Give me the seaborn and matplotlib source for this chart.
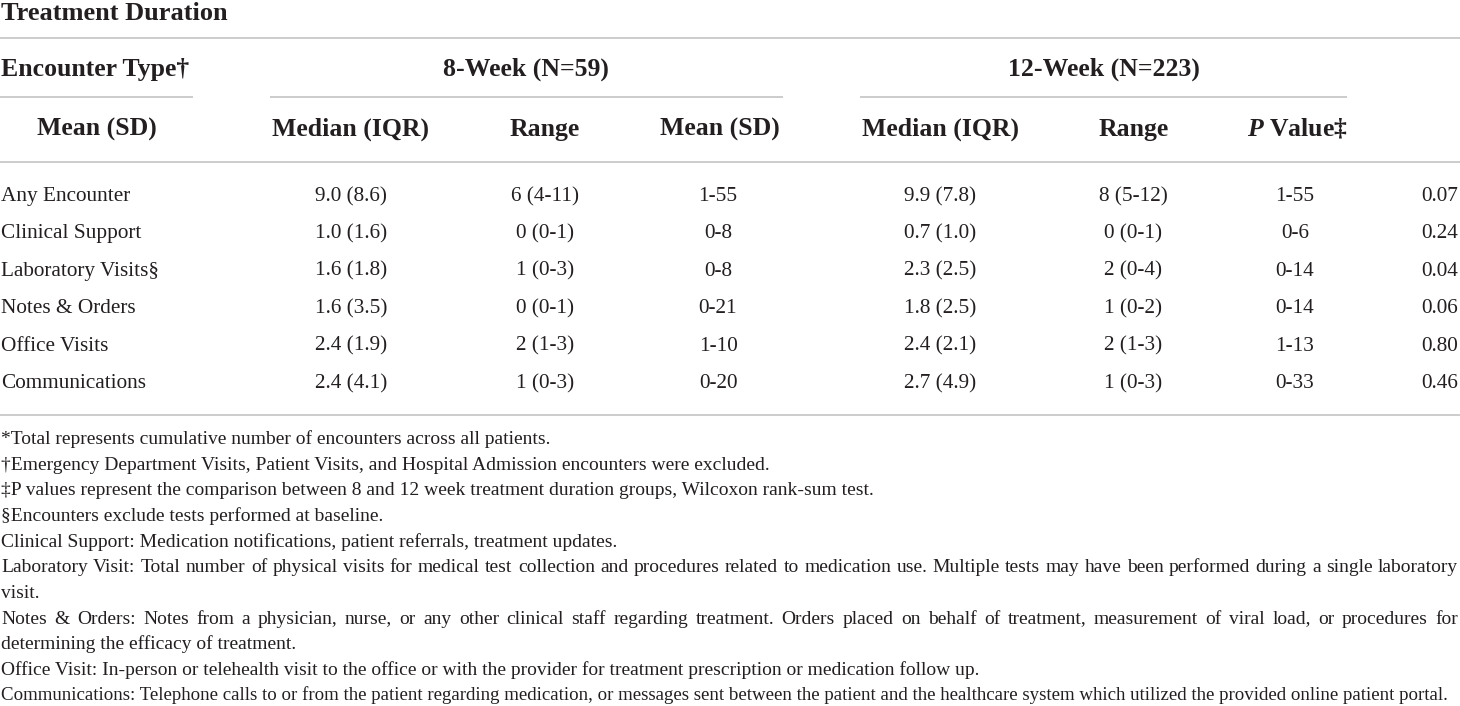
import pandas as pd
import matplotlib
matplotlib.use("Agg")
import matplotlib.pyplot as plt
import seaborn as sns

# table data
encounter_types = ["Any Encounter", "Clinical Support", "Laboratory Visits§",
                   "Notes & Orders", "Office Visits", "Communications"]
mean_sd_8 = ["9.0 (8.6)", "1.0 (1.6)", "1.6 (1.8)", "1.6 (3.5)", "2.4 (1.9)", "2.4 (4.1)"]
median_iqr_8 = ["6 (4-11)", "0 (0-1)", "1 (0-3)", "0 (0-1)", "2 (1-3)", "1 (0-3)"]
range_8 = ["1-55", "0-8", "0-8", "0-21", "1-10", "0-20"]
mean_sd_12 = ["9.9 (7.8)", "0.7 (1.0)", "2.3 (2.5)", "1.8 (2.5)", "2.4 (2.1)", "2.7 (4.9)"]
median_iqr_12 = ["8 (5-12)", "0 (0-1)", "2 (0-4)", "1 (0-2)", "2 (1-3)", "1 (0-3)"]
range_12 = ["1-55", "0-6", "0-14", "0-14", "1-13", "0-33"]
p_values = ["0.07", "0.24", "0.04", "0.06", "0.80", "0.46"]

group_labels = ["8-Week (N=59)", "12-Week (N=223)"]
sub_headers = ["Mean (SD)", "Median (IQR)", "Range", "Mean (SD)",
               "Median (IQR)", "Range", r"$\mathit{P}$ Value‡"]

footnotes = [
    "*Total represents cumulative number of encounters across all patients.",
    "†Emergency Department Visits, Patient Visits, and Hospital Admission encounters were excluded.",
    "‡P values represent the comparison between 8 and 12 week treatment duration groups, Wilcoxon rank-sum test.",
    "§Encounters exclude tests performed at baseline.",
    "Clinical Support: Medication notifications, patient referrals, treatment updates.",
    "Laboratory Visit: Total number of physical visits for medical test collection and procedures related to medication use. Multiple tests may have been performed during a single laboratory",
    "visit.",
    "Notes & Orders: Notes from a physician, nurse, or any other clinical staff regarding treatment. Orders placed on behalf of treatment, measurement of viral load, or procedures for",
    "determining the efficacy of treatment.",
    "Office Visit: In-person or telehealth visit to the office or with the provider for treatment prescription or medication follow up.",
    "Communications: Telephone calls to or from the patient regarding medication, or messages sent between the patient and the healthcare system which utilized the provided online patient portal.",
]
# lines that wrap onto the next one are set justified
justified = [False, False, False, False, False, True, False, True, False, False, False]

df = pd.DataFrame({
    "type": encounter_types,
    "mean8": mean_sd_8, "med8": median_iqr_8, "rng8": range_8,
    "mean12": mean_sd_12, "med12": median_iqr_12, "rng12": range_12,
    "p": p_values,
})

sns.set_theme(style="white")
plt.rcParams["font.family"] = ["Liberation Serif", "DejaVu Serif"]
plt.rcParams["mathtext.fontset"] = "custom"
plt.rcParams["mathtext.it"] = "Liberation Serif:italic:bold"

ink = "#231f20"
rule = "#c8c8c8"

fig = plt.figure(figsize=(14.6, 7.06), dpi=100)
ax = fig.add_axes([0, 0, 1, 1])
ax.set_xlim(0, 1460)
ax.set_ylim(706, 0)
ax.axis("off")
renderer = fig.canvas.get_renderer()

# title and rules
ax.text(1, 20, "Treatment Duration", fontsize=19, fontweight="bold", color=ink, va="baseline")
ax.hlines([38, 162, 415], 0, 1460, color=rule, lw=1.3)
ax.hlines([97, 97, 97], [0, 270, 860], [193, 783, 1347], color=rule, lw=1.3)

# header rows
hdr = dict(fontsize=18.5, fontweight="bold", color=ink, va="baseline")
ax.text(1, 76, "Encounter Type†", **hdr)
for lab, xc in zip(group_labels, [526, 1104]):
    ax.text(xc, 76, lab, ha="center", **hdr)
for lab, xc in zip(sub_headers, [97, 351, 545, 720, 940, 1134, 1297]):
    ax.text(xc, 136, lab, ha="center", **hdr)

# body
col_x = {"mean8": 351, "med8": 545, "rng8": 718, "mean12": 940,
         "med12": 1133, "rng12": 1295, "p": 1440}
for i, row in df.iterrows():
    y = 201 + i * 37.4
    ax.text(1, y, row["type"], fontsize=15.3, color=ink, va="baseline")
    for col, xc in col_x.items():
        ax.text(xc, y, row[col], fontsize=15.3, color=ink, ha="center", va="baseline")

# footnotes
left, right, fs = 1, 1458, 14
for j, (note, just) in enumerate(zip(footnotes, justified)):
    y = 444 + j * 25.65
    if just:
        words = note.split(" ")
        texts = [ax.text(0, y, w, fontsize=fs, color=ink, va="baseline") for w in words]
        widths = [t.get_window_extent(renderer=renderer).width for t in texts]
        gap = (right - left - sum(widths)) / (len(words) - 1)
        x = left
        for t, w in zip(texts, widths):
            t.set_x(x)
            x += w + gap
    else:
        t = ax.text(left, y, note, fontsize=fs, color=ink, va="baseline")
        w = t.get_window_extent(renderer=renderer).width
        if left + w > right:
            t.set_fontsize(fs * (right - left) / w)

fig.savefig("out.png", dpi=100, facecolor="white")
